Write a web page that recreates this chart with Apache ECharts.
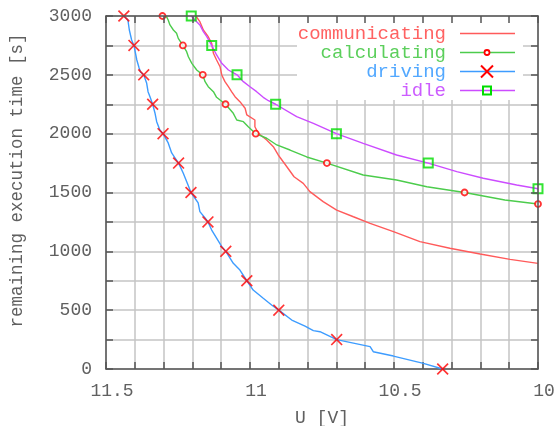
<!DOCTYPE html>
<html>
<head>
<meta charset="utf-8">
<script src="https://cdn.jsdelivr.net/npm/echarts@6/dist/echarts.min.js"></script>
<style>
  html, body { margin: 0; padding: 0; background: #fff; }
  #chart { width: 554px; height: 426px; }
</style>
</head>
<body>
<div id="chart"></div>
<script>
// series values: [U (V), remaining time (s)]
var communicating = [
  [11.188, 3000], [11.174, 2952], [11.162, 2881], [11.145, 2824], [11.133, 2768],
  [11.127, 2683], [11.116, 2626], [11.104, 2569], [11.098, 2499], [11.087, 2442],
  [11.075, 2399], [11.064, 2357], [11.052, 2314], [11.035, 2272], [11.017, 2216],
  [11.011, 2159], [10.983, 2116], [10.983, 2059], [10.971, 2003], [10.942, 1946],
  [10.919, 1889], [10.902, 1819], [10.879, 1742], [10.847, 1634], [10.815, 1578],
  [10.792, 1507], [10.746, 1422], [10.699, 1351], [10.641, 1294], [10.583, 1238],
  [10.502, 1167], [10.410, 1082], [10.306, 1026], [10.201, 977], [10.097, 932],
  [10.0, 898]
];
var calculating = [
  [11.304, 3000], [11.289, 2990], [11.284, 2966], [11.278, 2924], [11.266, 2881],
  [11.255, 2853], [11.249, 2810], [11.233, 2750], [11.220, 2697], [11.214, 2654],
  [11.202, 2598], [11.185, 2541], [11.164, 2500], [11.156, 2442], [11.145, 2399],
  [11.127, 2357], [11.116, 2309], [11.104, 2286], [11.085, 2250], [11.058, 2173],
  [11.046, 2116], [11.023, 2102], [11.006, 2059], [10.980, 2000], [10.942, 1961],
  [10.907, 1904], [10.861, 1861], [10.803, 1802], [10.733, 1750], [10.607, 1649],
  [10.491, 1606], [10.386, 1549], [10.255, 1500], [10.115, 1436], [10.0, 1402]
];
var driving = [
  [11.438, 3000], [11.424, 2966], [11.419, 2881], [11.411, 2796], [11.403, 2750],
  [11.393, 2626], [11.385, 2558], [11.380, 2524], [11.369, 2500], [11.359, 2431],
  [11.354, 2357], [11.347, 2312], [11.338, 2250], [11.330, 2176], [11.324, 2102],
  [11.313, 2031], [11.302, 2000], [11.284, 1921], [11.272, 1836], [11.260, 1793],
  [11.248, 1750], [11.232, 1666], [11.218, 1581], [11.211, 1538], [11.205, 1500],
  [11.180, 1411], [11.174, 1337], [11.156, 1283], [11.146, 1250], [11.133, 1181],
  [11.116, 1113], [11.098, 1040], [11.084, 1000], [11.058, 898], [11.035, 841],
  [11.011, 750], [10.989, 671], [10.954, 601], [10.925, 544], [10.900, 500],
  [10.855, 416], [10.809, 365], [10.780, 326], [10.757, 317], [10.699, 250],
  [10.583, 190], [10.572, 147], [10.502, 110], [10.398, 48], [10.331, 0]
];
var idle = [
  [11.204, 3000], [11.191, 2966], [11.174, 2924], [11.162, 2867], [11.150, 2824],
  [11.133, 2750], [11.116, 2669], [11.098, 2598], [11.075, 2541], [11.045, 2500],
  [11.023, 2442], [11.000, 2399], [10.977, 2357], [10.954, 2309], [10.936, 2280],
  [10.911, 2250], [10.838, 2144], [10.780, 2088], [10.700, 2000], [10.607, 1918],
  [10.491, 1819], [10.381, 1750], [10.282, 1677], [10.190, 1621], [10.074, 1564],
  [10.0, 1532]
];

// points that carry a marker
var calculatingMarks = [
  [11.304, 3000], [11.233, 2750], [11.164, 2500], [11.085, 2250], [10.980, 2000],
  [10.733, 1750], [10.255, 1500], [10.0, 1402]
];
var drivingMarks = [
  [11.438, 3000], [11.403, 2750], [11.369, 2500], [11.338, 2250], [11.302, 2000],
  [11.248, 1750], [11.205, 1500], [11.146, 1250], [11.084, 1000], [11.011, 750],
  [10.900, 500], [10.699, 250], [10.331, 0]
];
var idleMarks = [
  [11.204, 3000], [11.133, 2750], [11.045, 2500], [10.911, 2250], [10.700, 2000],
  [10.381, 1750], [10.0, 1532]
];

var seriesNames = ['communicating', 'calculating', 'driving', 'idle'];
var xLabels = [11.5, 11, 10.5, 10];
var yLabels = [0, 500, 1000, 1500, 2000, 2500, 3000];

var FONT = '"Liberation Mono", "DejaVu Sans Mono", monospace';
var lineColors = ['#ff5a5a', '#4ccc4c', '#3d9cff', '#cc4cff'];
var textColors = ['#ff6262', '#5ccf5c', '#52a8ff', '#cc5cff'];
var crossPath = 'path://M0,1 L1,0 L5,4 L9,0 L10,1 L6,5 L10,9 L9,10 L5,6 L1,10 L0,9 L4,5 Z';

var markStyles = [
  null,
  { symbol: 'circle', symbolSize: 6, itemStyle: { color: '#fff', borderColor: '#ff0000', borderWidth: 1.8 } },
  { symbol: crossPath, symbolSize: 12, itemStyle: { color: '#ff0000' } },
  { symbol: 'rect', symbolSize: 9, itemStyle: { color: 'rgba(0,0,0,0)', borderColor: '#00dd00', borderWidth: 2 } }
];
var markData = [null, calculatingMarks, drivingMarks, idleMarks];
var lineData = [communicating, calculating, driving, idle];

function isLabel(list, v) {
  for (var i = 0; i < list.length; i++) {
    if (Math.abs(list[i] - v) < 1e-6) return true;
  }
  return false;
}

var series = [];
lineData.forEach(function (d, i) {
  series.push({
    name: seriesNames[i],
    type: 'line',
    data: d,
    showSymbol: false,
    animation: false,
    lineStyle: { color: lineColors[i], width: 1.4 },
    z: 3
  });
});
markData.forEach(function (d, i) {
  if (!d) return;
  series.push({
    name: seriesNames[i] + ' marks',
    type: 'scatter',
    data: d,
    symbol: markStyles[i].symbol,
    symbolSize: markStyles[i].symbolSize,
    itemStyle: markStyles[i].itemStyle,
    animation: false,
    silent: true,
    z: 4
  });
});

// legend, drawn top right inside the plot
var legendItems = [];
legendItems.push({
  type: 'rect', z: 2,
  shape: { x: 297, y: 17, width: 226, height: 83 },
  style: { fill: '#fff' }
});
seriesNames.forEach(function (name, i) {
  var y = 33.5 + i * 19;
  legendItems.push({
    type: 'text', z: 6,
    style: { text: name, x: 446, y: y, align: 'right', verticalAlign: 'middle',
      font: '19px ' + FONT, fill: textColors[i] }
  });
  legendItems.push({
    type: 'line', z: 6,
    shape: { x1: 460, y1: y, x2: 515, y2: y },
    style: { stroke: lineColors[i], lineWidth: 1.4 }
  });
});
legendItems.push({ type: 'circle', z: 7, shape: { cx: 487, cy: 52.5, r: 2.5 },
  style: { fill: '#fff', stroke: '#ff0000', lineWidth: 1.8 } });
legendItems.push({ type: 'line', z: 7, shape: { x1: 481, y1: 65.5, x2: 493, y2: 77.5 },
  style: { stroke: '#ff0000', lineWidth: 2 } });
legendItems.push({ type: 'line', z: 7, shape: { x1: 493, y1: 65.5, x2: 481, y2: 77.5 },
  style: { stroke: '#ff0000', lineWidth: 2 } });
legendItems.push({ type: 'rect', z: 7, shape: { x: 483, y: 86.5, width: 8, height: 8 },
  style: { fill: 'rgba(0,0,0,0)', stroke: '#00dd00', lineWidth: 2 } });

var axisGray = '#555';
var textGray = '#606060';
var gridGray = '#c4c4c4';

var option = {
  backgroundColor: '#fff',
  animation: false,
  grid: { left: 106, right: 16, top: 16, bottom: 57, containLabel: false, outerBoundsMode: 'none' },
  xAxis: [{
    type: 'value', min: 10, max: 11.5, interval: 0.1, inverse: true,
    name: 'U [V]', nameLocation: 'middle', nameGap: 40,
    nameTextStyle: { color: textGray, fontFamily: FONT, fontSize: 18 },
    axisLine: { show: true, onZero: false, lineStyle: { color: axisGray, width: 1.5 } },
    axisTick: { show: true, inside: true, length: 7, lineStyle: { color: axisGray, width: 1.5 } },
    axisLabel: {
      color: textGray, fontFamily: FONT, fontSize: 18, margin: 13, padding: [0, 0, 0, 12],
      showMinLabel: true, showMaxLabel: true, hideOverlap: false,
      formatter: function (v) { return isLabel(xLabels, v) ? String(+v.toFixed(1)) : ''; }
    },
    splitLine: { show: true, lineStyle: { color: gridGray, width: 1.5 } },
    z: 0
  }, {
    type: 'value', min: 10, max: 11.5, interval: 0.1, inverse: true, position: 'top',
    axisLine: { show: true, onZero: false, lineStyle: { color: axisGray, width: 1.5 } },
    axisTick: { show: true, inside: true, length: 7, lineStyle: { color: axisGray, width: 1.5 } },
    axisLabel: { show: false },
    splitLine: { show: false },
    z: 5
  }],
  yAxis: [{
    type: 'value', min: 0, max: 3000, interval: 250,
    name: 'remaining execution time [s]', nameLocation: 'middle', nameGap: 80,
    nameTextStyle: { color: textGray, fontFamily: FONT, fontSize: 17.5, padding: [0, 0, 0, 24] },
    axisLine: { show: true, onZero: false, lineStyle: { color: axisGray, width: 1.5 } },
    axisTick: { show: true, inside: true, length: 7, lineStyle: { color: axisGray, width: 1.5 } },
    axisLabel: {
      color: textGray, fontFamily: FONT, fontSize: 18, margin: 14,
      formatter: function (v) { return isLabel(yLabels, v) ? String(v) : ''; }
    },
    splitLine: { show: true, lineStyle: { color: gridGray, width: 1.5 } },
    z: 0
  }, {
    type: 'value', min: 0, max: 3000, interval: 250, position: 'right',
    axisLine: { show: true, onZero: false, lineStyle: { color: axisGray, width: 1.5 } },
    axisTick: { show: true, inside: true, length: 7, lineStyle: { color: axisGray, width: 1.5 } },
    axisLabel: { show: false },
    splitLine: { show: false },
    z: 5
  }],
  graphic: legendItems,
  series: series
};

var chart = echarts.init(document.getElementById('chart'), null, { renderer: 'canvas' });
chart.setOption(option);
</script>
</body>
</html>
